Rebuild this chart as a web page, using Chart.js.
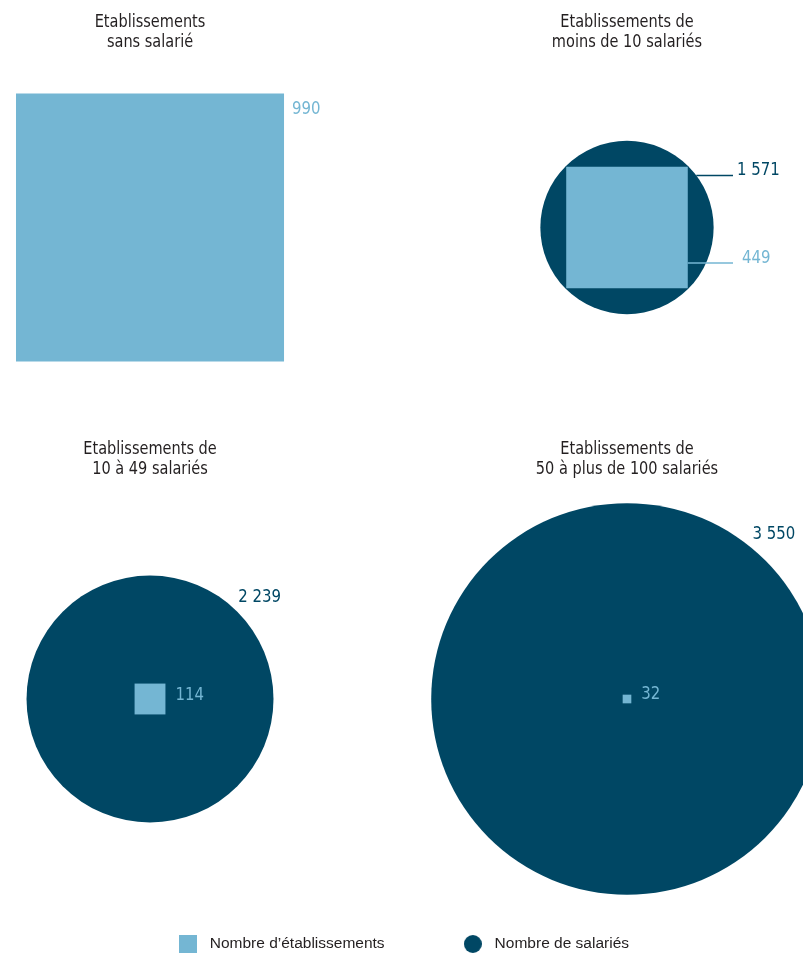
<!DOCTYPE html>
<html>
<head>
<meta charset="utf-8">
<script src="https://cdn.jsdelivr.net/npm/chart.js@4.4.1/dist/chart.umd.min.js"></script>
<style>
  html, body { margin: 0; padding: 0; background: #fff; }
  #wrap { width: 803px; height: 954px; }
</style>
</head>
<body>
<div id="wrap"><canvas id="etabChart" width="803" height="954"></canvas></div>
<script>
// panel titles (one per establishment size class)
const titles = [
    ['Etablissements', 'sans salarié'],
    ['Etablissements de', 'moins de 10 salariés'],
    ['Etablissements de', '10 à 49 salariés'],
    ['Etablissements de', '50 à plus de 100 salariés']
];
// grid slot of each panel
const panelCol = [0, 1, 0, 1];
const panelRow = [0, 0, 1, 1];
// values
const etablissements = [990, 449, 114, 32];
const salaries = [0, 1571, 2239, 3550];

const LIGHT = '#74b6d3';
const DARK = '#004764';
const TEXT = '#231f20';
const FONT = '"DejaVu Sans", sans-serif';
const NARROW = 0.83; // horizontal squeeze, the original uses a condensed face

// where each value label sits, relative to its mark
const etabLabelPos = [
    { type: 'corner', dx: 8, dy: 15.5 },
    { type: 'leader', dy: 35.5, end: 106, gap: 9 },
    { type: 'right', dx: 10, dy: 1 },
    { type: 'right', dx: 10, dy: 0 }
];
const salLabelPos = [
    null,
    { type: 'leader', dy: -52, end: 106, gap: 4 },
    { type: 'diag', dx: 1, dy: -10 },
    { type: 'diag', dx: -13, dy: -22 }
];
const titleBaseline = [27, 454];

function fmt(v) {
    return String(v).replace(/\B(?=(\d{3})+(?!\d))/g, ' ');
}

function narrowText(ctx, txt, x, y) {
    ctx.save();
    ctx.translate(x, y);
    ctx.scale(NARROW, 1);
    ctx.fillText(txt, 0, 0);
    ctx.restore();
}

// size through a hidden scale: value -> pixels
function sizeOf(chart, scaleId, v) {
    const s = chart.scales && chart.scales[scaleId];
    if (!s || !v) return 0;
    return Math.abs(s.getPixelForValue(v) - s.getPixelForValue(0));
}

function legendIcon(kind, color) {
    const c = document.createElement('canvas');
    c.width = 18; c.height = 18;
    const g = c.getContext('2d');
    g.fillStyle = color;
    if (kind === 'circle') {
        g.beginPath(); g.arc(9, 9, 9, 0, Math.PI * 2); g.fill();
    } else {
        g.fillRect(0, 0, 18, 18);
    }
    return c;
}
const legendIcons = [legendIcon('rect', LIGHT), legendIcon('circle', DARK)];

const labelsPlugin = {
    id: 'panelLabels',
    afterDatasetsDraw(chart) {
        const ctx = chart.ctx;
        const sq = chart.getDatasetMeta(0).data;
        const ci = chart.getDatasetMeta(1).data;
        ctx.save();
        // titles
        ctx.fillStyle = TEXT;
        ctx.font = '17.5px ' + FONT;
        ctx.textAlign = 'center';
        ctx.textBaseline = 'alphabetic';
        titles.forEach((t, i) => {
            const x = chart.scales.x.getPixelForValue(panelCol[i]);
            const y0 = titleBaseline[panelRow[i]];
            t.forEach((line, k) => narrowText(ctx, line, x, y0 + k * 19.5));
        });
        ctx.font = '18px ' + FONT;
        ctx.textAlign = 'left';
        ctx.lineWidth = 1.5;
        // square labels
        etablissements.forEach((v, i) => {
            const el = sq[i];
            const half = el.options.radius * Math.SQRT1_2;
            const p = etabLabelPos[i];
            ctx.fillStyle = LIGHT;
            ctx.strokeStyle = LIGHT;
            if (p.type === 'corner') {
                ctx.textBaseline = 'middle';
                narrowText(ctx, fmt(v), el.x + half + p.dx, el.y - half + p.dy);
            } else if (p.type === 'right') {
                ctx.textBaseline = 'alphabetic';
                narrowText(ctx, fmt(v), el.x + half + p.dx, el.y + p.dy);
            } else if (p.type === 'leader') {
                const y = el.y + p.dy;
                ctx.beginPath();
                ctx.moveTo(el.x + half, y);
                ctx.lineTo(el.x + p.end, y);
                ctx.stroke();
                ctx.textBaseline = 'alphabetic';
                narrowText(ctx, fmt(v), el.x + p.end + p.gap, y);
            }
        });
        // circle labels
        salaries.forEach((v, i) => {
            const p = salLabelPos[i];
            if (!p) return;
            const el = ci[i];
            const r = el.options.radius;
            ctx.fillStyle = DARK;
            ctx.strokeStyle = DARK;
            ctx.textBaseline = 'alphabetic';
            if (p.type === 'leader') {
                const y = el.y + p.dy;
                const x0 = el.x + Math.sqrt(Math.max(0, r * r - p.dy * p.dy));
                ctx.beginPath();
                ctx.moveTo(x0, y);
                ctx.lineTo(el.x + p.end, y);
                ctx.stroke();
                narrowText(ctx, fmt(v), el.x + p.end + p.gap, y);
            } else if (p.type === 'diag') {
                const d = r * Math.SQRT1_2;
                narrowText(ctx, fmt(v), el.x + d + p.dx, el.y - d + p.dy);
            }
        });
        ctx.restore();
    }
};

const points = titles.map((t, i) => ({ x: panelCol[i], y: panelRow[i] }));

new Chart(document.getElementById('etabChart'), {
    type: 'scatter',
    data: {
        datasets: [{
            label: 'Nombre d\u2019établissements',
            data: points,
            pointStyle: 'rect',
            backgroundColor: LIGHT,
            borderWidth: 0,
            pointBorderWidth: 0,
            pointHoverRadius: 0,
            clip: false,
            pointRadius: ctx => sizeOf(ctx.chart, 'etabSize', etablissements[ctx.dataIndex]) / Math.SQRT2
        }, {
            label: 'Nombre de salariés',
            data: points,
            pointStyle: 'circle',
            backgroundColor: DARK,
            borderWidth: 0,
            pointBorderWidth: 0,
            pointHoverRadius: 0,
            clip: false,
            pointRadius: ctx => sizeOf(ctx.chart, 'salSize', salaries[ctx.dataIndex]) / 2
        }]
    },
    options: {
        responsive: false,
        animation: false,
        events: [],
        layout: { padding: { left: 0, right: 0, top: 0, bottom: -7.75 } },
        scales: {
            x: { type: 'linear', display: false, min: -0.3145, max: 1.369 },
            y: { type: 'linear', display: false, reverse: true, min: -0.4825, max: 1.3457 },
            etabSize: { type: 'linear', axis: 'x', display: false, min: 0, max: 2966 },
            salSize: { type: 'linear', axis: 'x', display: false, min: 0, max: 7280 }
        },
        plugins: {
            tooltip: { enabled: false },
            legend: {
                position: 'bottom',
                labels: {
                    usePointStyle: true,
                    pointStyleWidth: 28,
                    padding: 74.25,
                    color: TEXT,
                    font: { family: '"Liberation Sans", Arial, sans-serif', size: 15.5 },
                    generateLabels: chart => chart.data.datasets.map((ds, i) => ({
                        text: ds.label,
                        pointStyle: legendIcons[i],
                        fillStyle: ds.backgroundColor,
                        strokeStyle: 'transparent',
                        lineWidth: 0,
                        hidden: false,
                        datasetIndex: i,
                        fontColor: TEXT
                    }))
                }
            }
        }
    },
    plugins: [labelsPlugin]
});
</script>
</body>
</html>
